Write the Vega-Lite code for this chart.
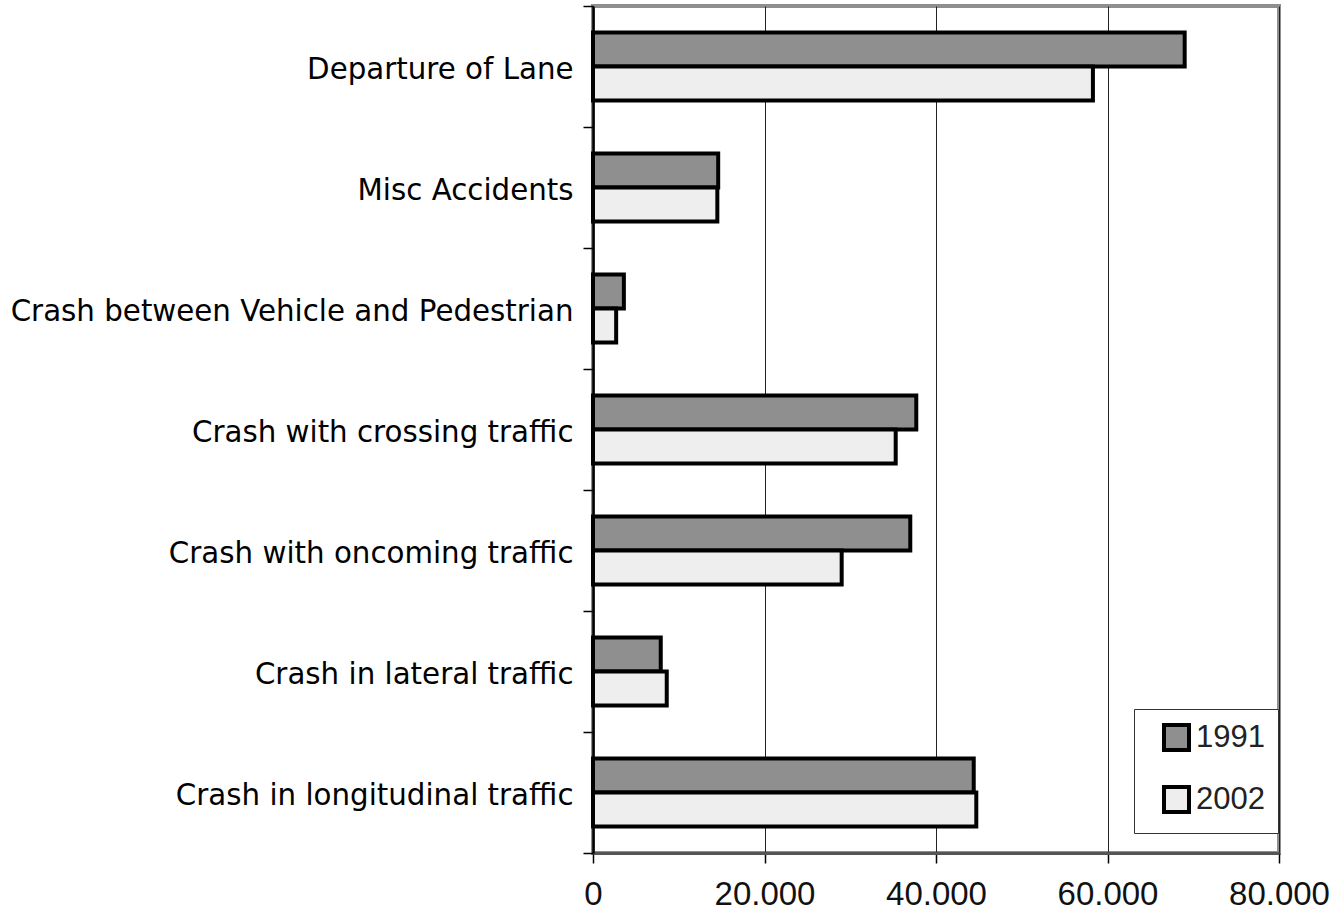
{
  "$schema": "https://vega.github.io/schema/vega-lite/v6.json",
  "width": 686,
  "height": 847,
  "autosize": {"type": "none"},
  "padding": {"left": 593, "top": 6, "right": 57, "bottom": 64},
  "background": "white",
  "config": {
    "view": {"stroke": "#8f8f8f", "strokeWidth": 4},
    "locale": {"number": {"decimal": ",", "thousands": ".", "grouping": [3], "currency": ["", " €"]}}
  },
  "data": {
    "values": [
      {"category": "Departure of Lane", "year": "1991", "value": 69000},
      {"category": "Departure of Lane", "year": "2002", "value": 58300},
      {"category": "Misc Accidents", "year": "1991", "value": 14600},
      {"category": "Misc Accidents", "year": "2002", "value": 14500},
      {"category": "Crash between Vehicle and Pedestrian", "year": "1991", "value": 3600},
      {"category": "Crash between Vehicle and Pedestrian", "year": "2002", "value": 2700},
      {"category": "Crash with crossing traffic", "year": "1991", "value": 37700},
      {"category": "Crash with crossing traffic", "year": "2002", "value": 35300},
      {"category": "Crash with oncoming traffic", "year": "1991", "value": 37000},
      {"category": "Crash with oncoming traffic", "year": "2002", "value": 29000},
      {"category": "Crash in lateral traffic", "year": "1991", "value": 7900},
      {"category": "Crash in lateral traffic", "year": "2002", "value": 8600},
      {"category": "Crash in longitudinal traffic", "year": "1991", "value": 44400},
      {"category": "Crash in longitudinal traffic", "year": "2002", "value": 44700}
    ]
  },
  "mark": {"type": "bar", "stroke": "black", "strokeWidth": 4},
  "encoding": {
    "y": {
      "field": "category",
      "type": "nominal",
      "sort": null,
      "scale": {"paddingInner": 0, "paddingOuter": 0},
      "axis": {
        "title": null,
        "bandPosition": 1,
        "tickExtra": true,
        "labelFont": "DejaVu Sans",
        "labelFontSize": 29.3,
        "labelColor": "black",
        "labelLimit": 700,
        "labelPadding": 10,
        "labelOffset": 3,
        "tickSize": 10,
        "tickColor": "black",
        "tickWidth": 1.5,
        "domainColor": "black",
        "domainWidth": 2.5,
        "grid": false
      }
    },
    "yOffset": {
      "field": "year",
      "type": "nominal",
      "scale": {"paddingInner": 0, "paddingOuter": 0.78}
    },
    "x": {
      "field": "value",
      "type": "quantitative",
      "stack": null,
      "scale": {"domain": [0, 80000], "nice": false},
      "axis": {
        "title": null,
        "values": [0, 20000, 40000, 60000, 80000],
        "format": ",d",
        "labelFont": "Liberation Sans",
        "labelFontSize": 33,
        "labelColor": "#111",
        "labelFlush": false,
        "labelPadding": 15,
        "tickSize": 10,
        "tickColor": "black",
        "tickWidth": 1.5,
        "domainColor": "#555",
        "domainWidth": 3,
        "grid": true,
        "gridColor": "#222"
      }
    },
    "fill": {
      "field": "year",
      "type": "nominal",
      "scale": {"domain": ["1991", "2002"], "range": ["#8f8f8f", "#eeeeee"]},
      "legend": {
        "title": null,
        "orient": "none",
        "legendX": 541,
        "legendY": 703,
        "fillColor": "white",
        "strokeColor": "#333",
        "padding": 13,
        "rowPadding": 21,
        "symbolType": "square",
        "symbolSize": 625,
        "symbolStrokeColor": "black",
        "symbolStrokeWidth": 4,
        "symbolOffset": 14,
        "labelOffset": 4,
        "labelFont": "Liberation Sans",
        "labelFontSize": 31,
        "labelColor": "#222",
        "labelExpr": "datum.label + '\u00a0\u00a0'"
      }
    }
  }
}
